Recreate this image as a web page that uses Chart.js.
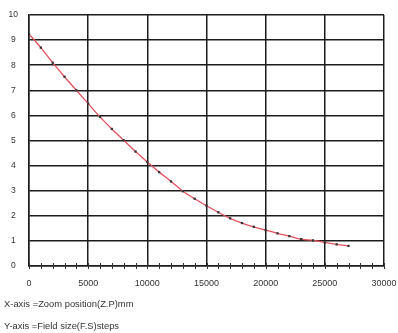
<!DOCTYPE html>
<html>
<head>
<meta charset="utf-8">
<script src="https://cdn.jsdelivr.net/npm/chart.js@4.4.0/dist/chart.umd.min.js"></script>
<style>
  html, body { margin: 0; padding: 0; background: #fff; }
  #wrap { position: relative; width: 398px; height: 333px; }
  canvas { position: absolute; left: 0; top: 0; }
  .note { position: absolute; left: 4px; font: 9.4px "Liberation Sans", Arial, sans-serif; color: #333; white-space: nowrap; }
</style>
</head>
<body>
<div id="wrap">
  <canvas id="zoomChart" width="398" height="333"></canvas>
  <div class="note" style="top:298px;">X-axis =Zoom position(Z.P)mm</div>
  <div class="note" style="top:320px;">Y-axis =Field size(F.S)steps</div>
</div>
<script>
// 变焦位置 (mm) 与视场大小 (steps)
const zoomPositions = [0, 1000, 2000, 3000, 4000, 5000, 6000, 7000, 8000, 9000,
    10000, 11000, 12000, 13000, 14000, 15000, 16000, 17000, 18000, 19000,
    20000, 21000, 22000, 23000, 24000, 25000, 26000, 27000];
const fieldSizes = [9.24, 8.70, 8.10, 7.54, 7.00, 6.47, 5.94, 5.46, 5.01, 4.56,
    4.14, 3.74, 3.37, 2.98, 2.68, 2.40, 2.14, 1.90, 1.71, 1.56,
    1.43, 1.30, 1.19, 1.07, 1.02, 0.94, 0.86, 0.80];

// 坐标轴刻度
const xMajorStep = 5000;
const xMinorStep = 1000;
const xMax = 30000;
const yMax = 10;

const gridColor = '#1c1c1c';

// x 轴上的小刻度，跨过轴线上下各画一段
const minorTicks = {
    id: 'minorTicks',
    afterDraw(chart) {
        const ctx = chart.ctx;
        const xs = chart.scales.x;
        const y0 = chart.scales.y.getPixelForValue(0);
        ctx.save();
        ctx.strokeStyle = '#333';
        ctx.lineWidth = 1;
        for (let v = 0; v <= xMax; v += xMinorStep) {
            const px = Math.round(xs.getPixelForValue(v)) + 0.5;
            ctx.beginPath();
            ctx.moveTo(px, y0 - 3);
            ctx.lineTo(px, y0 + 3);
            ctx.stroke();
        }
        ctx.restore();
    }
};

const ctx = document.getElementById('zoomChart').getContext('2d');
new Chart(ctx, {
    type: 'line',
    data: {
        labels: zoomPositions,
        datasets: [{
            data: zoomPositions.map((x, i) => ({ x: x, y: fieldSizes[i] })),
            borderColor: '#e4505c',
            borderWidth: 1.3,
            tension: 0.4,
            cubicInterpolationMode: 'monotone',
            pointStyle: 'rect',
            pointRadius: 1.6,
            pointBackgroundColor: '#333',
            pointBorderColor: '#333',
            pointBorderWidth: 0
        }]
    },
    options: {
        responsive: false,
        animation: false,
        layout: { padding: { top: 15, right: 14, bottom: 37, left: 0 } },
        plugins: {
            legend: { display: false },
            tooltip: { enabled: false }
        },
        scales: {
            x: {
                type: 'linear',
                min: 0,
                max: xMax,
                afterFit(scale) {
                    scale.height = 30;
                    scale.paddingLeft = 0;
                    scale.paddingRight = 0;
                },
                ticks: {
                    stepSize: xMajorStep,
                    padding: 12,
                    color: '#333',
                    font: { family: 'Liberation Sans', size: 9 },
                    maxRotation: 0,
                    callback: (v) => String(v)
                },
                grid: { color: gridColor, lineWidth: 1.5, drawTicks: false },
                border: { color: gridColor, width: 1.5 }
            },
            y: {
                min: 0,
                max: yMax,
                afterFit(scale) {
                    scale.width = 29;
                    scale.paddingTop = 0;
                    scale.paddingBottom = 0;
                },
                ticks: {
                    stepSize: 1,
                    padding: 11,
                    crossAlign: 'center',
                    color: '#333',
                    font: { family: 'Liberation Sans', size: 8.5 }
                },
                grid: { color: gridColor, lineWidth: 1.5, drawTicks: false },
                border: { color: gridColor, width: 1.5 }
            }
        }
    },
    plugins: [minorTicks]
});
</script>
</body>
</html>
